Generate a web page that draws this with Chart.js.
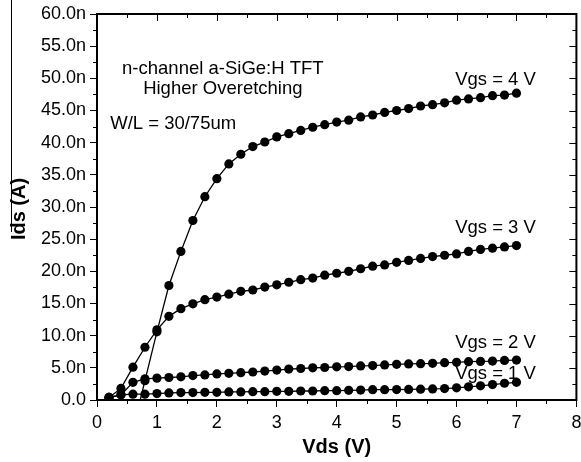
<!DOCTYPE html>
<html>
<head>
<meta charset="utf-8">
<script src="https://cdn.jsdelivr.net/npm/chart.js@4.4.0/dist/chart.umd.min.js"></script>
<style>
  html, body { margin: 0; padding: 0; background: #fff; }
  #wrap { width: 581px; height: 462px; }
</style>
</head>
<body>
<div id="wrap"><canvas id="chart" width="581" height="462"></canvas></div>
<script>
// Vds sweep (V) and Ids (nA) per gate voltage
const vdsLow = [0.2, 0.4, 0.6, 0.8, 1.0, 1.2];
const vdsHigh = [1.4, 1.6, 1.8, 2.0, 2.2, 2.4, 2.6, 2.8, 3.0, 3.2, 3.4, 3.6, 3.8, 4.0,
  4.2, 4.4, 4.6, 4.8, 5.0, 5.2, 5.4, 5.6, 5.8, 6.0, 6.2, 6.4, 6.6, 6.8, 7.0];

const vgs4Vds = [0.6, 0.8, 1.0, 1.2].concat(vdsHigh);
const vgs4Ids = [-4.6, 3.0, 10.6, 17.8, 23.1, 27.9, 31.6, 34.4, 36.7, 38.2, 39.4, 40.1, 40.9, 41.4,
  41.9, 42.4, 42.8, 43.2, 43.5, 44.0, 44.3, 44.7, 45.0, 45.3, 45.7, 45.9, 46.2, 46.6, 46.8,
  47.0, 47.3, 47.4, 47.7];

const vgs3Ids = [0.4, 1.8, 5.1, 8.2, 10.9, 13.0, 14.2, 14.95, 15.6, 16.0, 16.45, 16.9, 17.1,
  17.55, 17.9, 18.3, 18.7, 18.95, 19.4, 19.7, 20.0, 20.4, 20.8, 21.0, 21.4, 21.7, 22.0, 22.3,
  22.5, 22.7, 23.1, 23.4, 23.6, 23.8, 24.0];

const vgs2Ids = [0.4, 0.8, 2.75, 3.3, 3.4, 3.5, 3.6, 3.8, 3.9, 4.05, 4.15, 4.25, 4.35, 4.5,
  4.65, 4.8, 4.9, 5.0, 5.05, 5.15, 5.2, 5.3, 5.35, 5.45, 5.55, 5.6, 5.65, 5.7, 5.8, 5.85,
  5.95, 6.0, 6.05, 6.15, 6.2];

const vgs1Ids = [0.4, 0.8, 0.9, 0.9, 1.0, 1.1, 1.15, 1.15, 1.2, 1.2, 1.25, 1.25, 1.3, 1.3,
  1.35, 1.35, 1.4, 1.4, 1.45, 1.45, 1.5, 1.55, 1.6, 1.6, 1.62, 1.65, 1.68, 1.72, 1.78, 1.9,
  2.05, 2.2, 2.4, 2.6, 2.75];

const xTicks = [0, 1, 2, 3, 4, 5, 6, 7, 8];
const yTicks = [0, 5, 10, 15, 20, 25, 30, 35, 40, 45, 50, 55, 60];

const curveLabels = [
  { text: "Vgs = 4 V", x: 6.65, y: 49.7 },
  { text: "Vgs = 3 V", x: 6.65, y: 26.7 },
  { text: "Vgs = 2 V", x: 6.65, y: 8.9 },
  { text: "Vgs = 1 V", x: 6.65, y: 4.0 }
];
const notes = [
  { text: "n-channel a-SiGe:H TFT", x: 2.1, y: 51.4, align: "center" },
  { text: "Higher Overetching", x: 2.1, y: 48.3, align: "center" },
  { text: "W/L = 30/75um", x: 0.22, y: 42.9, align: "left" }
];

const allVds = vdsLow.concat(vdsHigh);
const pairs = (xs, ys) => xs.map((x, i) => ({ x: x, y: ys[i] }));

const series = (data) => ({
  data: data,
  showLine: true,
  borderColor: "#000",
  borderWidth: 1.3,
  backgroundColor: "#000",
  pointRadius: 4.6,
  pointBorderWidth: 0,
  pointHoverRadius: 4.6
});

/* ===== frame, minor ticks and texts ===== */
const extras = {
  id: "extras",
  afterDraw(chart) {
    const ctx = chart.ctx;
    const xs = chart.scales.x;
    const ys = chart.scales.y;
    const a = chart.chartArea;

    ctx.save();
    ctx.strokeStyle = "#000";
    ctx.lineWidth = 1;

    // bottom minor ticks (outward), top ticks (inward)
    for (let v = 0; v <= 8; v += 0.5) {
      const px = Math.round(xs.getPixelForValue(v)) + 0.5;
      const major = v % 1 === 0;
      if (!major) {
        ctx.beginPath(); ctx.moveTo(px, a.bottom); ctx.lineTo(px, a.bottom + 4); ctx.stroke();
      }
      ctx.beginPath(); ctx.moveTo(px, a.top); ctx.lineTo(px, a.top + (major ? 7 : 4)); ctx.stroke();
    }
    // left minor ticks (outward), right ticks (inward)
    for (let v = 0; v <= 60; v += 2.5) {
      const py = Math.round(ys.getPixelForValue(v)) + 0.5;
      const major = v % 5 === 0;
      if (!major) {
        ctx.beginPath(); ctx.moveTo(a.left, py); ctx.lineTo(a.left - 4, py); ctx.stroke();
      }
      ctx.beginPath(); ctx.moveTo(a.right, py); ctx.lineTo(a.right - (major ? 7 : 4), py); ctx.stroke();
    }

    // frame
    ctx.lineWidth = 2;
    ctx.strokeRect(a.left, a.top, a.right - a.left, a.bottom - a.top);

    // stray line at far left of the original
    ctx.lineWidth = 1;
    ctx.beginPath(); ctx.moveTo(11.5, 0); ctx.lineTo(11.5, 232); ctx.stroke();

    ctx.fillStyle = "#000";
    ctx.textBaseline = "middle";
    ctx.font = "18.5px 'Liberation Sans', Arial, sans-serif";
    curveLabels.forEach(l => {
      ctx.textAlign = "center";
      ctx.fillText(l.text, xs.getPixelForValue(l.x), ys.getPixelForValue(l.y));
    });
    notes.forEach(n => {
      ctx.textAlign = n.align;
      ctx.fillText(n.text, xs.getPixelForValue(n.x), ys.getPixelForValue(n.y));
    });

    // axis titles
    ctx.font = "bold 20px 'Liberation Sans', Arial, sans-serif";
    ctx.textAlign = "center";
    ctx.fillText("Vds (V)", (a.left + a.right) / 2, 447);
    ctx.save();
    ctx.translate(19, (a.top + a.bottom) / 2 + 2);
    ctx.rotate(-Math.PI / 2);
    ctx.fillText("Ids (A)", 0, 0);
    ctx.restore();

    ctx.restore();
  }
};

new Chart(document.getElementById("chart"), {
  type: "scatter",
  data: {
    datasets: [
      series(pairs(vgs4Vds, vgs4Ids)),
      series(pairs(allVds, vgs3Ids)),
      series(pairs(allVds, vgs2Ids)),
      series(pairs(allVds, vgs1Ids))
    ]
  },
  options: {
    responsive: false,
    animation: false,
    layout: { padding: { top: 14, right: 4, left: 0, bottom: 0 } },
    plugins: { legend: { display: false }, tooltip: { enabled: false } },
    scales: {
      x: {
        type: "linear",
        min: 0,
        max: 8,
        afterBuildTicks: (s) => { s.ticks = xTicks.map(v => ({ value: v })); },
        afterFit: (s) => { s.height = 62; s.paddingLeft = 0; s.paddingRight = 0; },
        ticks: {
          color: "#000",
          padding: 5,
          maxRotation: 0,
          font: { family: "'Liberation Sans', Arial, sans-serif", size: 18 }
        },
        grid: { drawOnChartArea: false, color: "#000", tickLength: 7 },
        border: { color: "#000", width: 2 }
      },
      y: {
        type: "linear",
        min: 0,
        max: 60,
        afterBuildTicks: (s) => { s.ticks = yTicks.map(v => ({ value: v })); },
        afterFit: (s) => { s.width = 97; s.paddingTop = 0; s.paddingBottom = 0; },
        ticks: {
          color: "#000",
          padding: 4,
          font: { family: "'Liberation Sans', Arial, sans-serif", size: 18 },
          callback: (v) => v === 0 ? "0.0" : v.toFixed(1) + "n"
        },
        grid: { drawOnChartArea: false, color: "#000", tickLength: 7 },
        border: { color: "#000", width: 2 }
      }
    }
  },
  plugins: [extras]
});
</script>
</body>
</html>
